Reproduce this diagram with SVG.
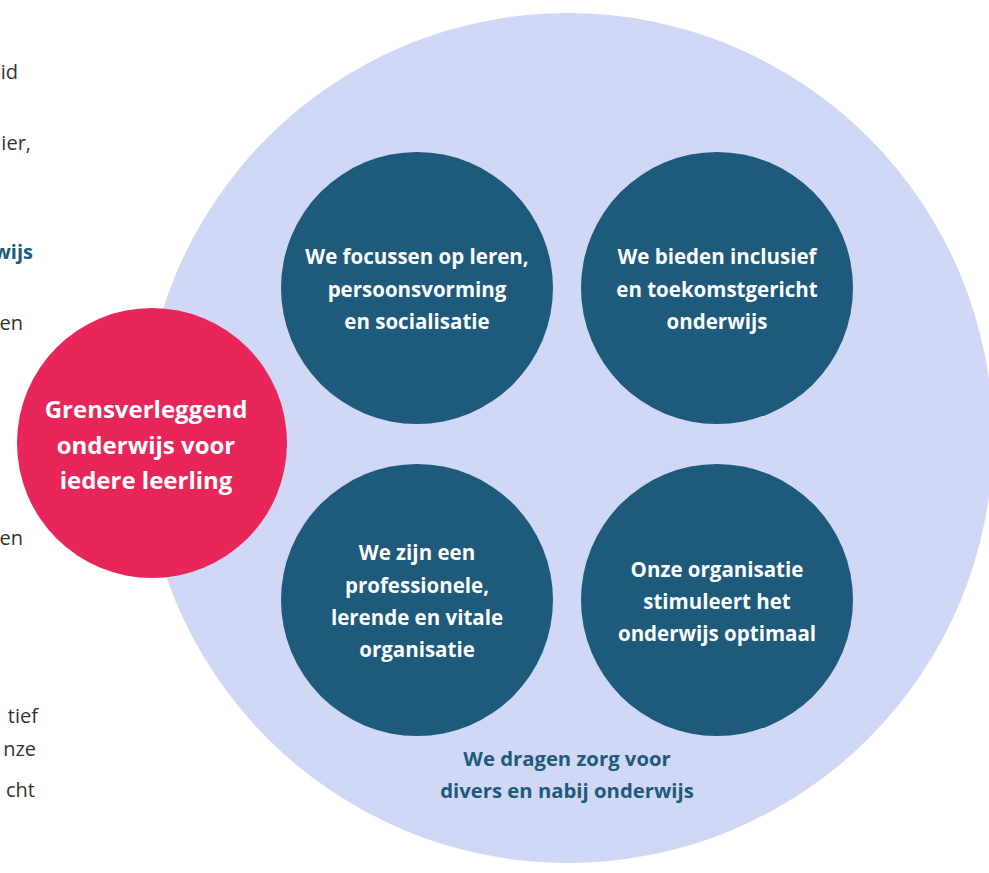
<svg xmlns="http://www.w3.org/2000/svg" width="989" height="873" viewBox="0 0 989 873">
<style>
.frag{font-family:"Open Sans","Noto Sans",sans-serif;font-size:20px;fill:#333;text-anchor:end}
.fragb{font-family:"Open Sans","Noto Sans",sans-serif;font-size:20px;font-weight:bold;fill:#1D5A7B;text-anchor:end}
.wt{font-family:"Open Sans","Noto Sans",sans-serif;font-weight:bold;font-size:20.5px;fill:#fff;text-anchor:middle}
.pk{font-family:"Open Sans","Noto Sans",sans-serif;font-weight:bold;font-size:24px;fill:#fff;text-anchor:middle}
.bt{font-family:"Open Sans","Noto Sans",sans-serif;font-weight:bold;font-size:20.3px;fill:#1D5A7B;text-anchor:middle}
.dk{fill:#1D5A7B}
</style>
<rect width="989" height="873" fill="#fff"/>
<g id="fragments">
<text class="frag" x="18" y="79">id</text>
<text class="frag" x="31" y="150">ier,</text>
<text class="fragb" x="33" y="259">wijs</text>
<text class="frag" x="23" y="330">en</text>
<text class="frag" x="23" y="545">en</text>
<text class="frag" x="38" y="723">tief</text>
<text class="frag" x="36" y="756">nze</text>
<text class="frag" x="35" y="797">cht</text>
</g>
<g id="outer">
<circle cx="568" cy="438" r="425" fill="#D1D8F5"/>
<text class="bt" x="567" y="766">We dragen zorg voor</text>
<text class="bt" x="567" y="798">divers en nabij onderwijs</text>
</g>
<g id="center">
<circle cx="152" cy="443" r="135" fill="#E8265A"/>
<text class="pk" x="146" y="418">Grensverleggend</text>
<text class="pk" x="146" y="454">onderwijs voor</text>
<text class="pk" x="146" y="489">iedere leerling</text>
</g>
<g id="n1">
<circle class="dk" cx="417" cy="288" r="136"/>
<text class="wt" x="417" y="264">We focussen op leren,</text>
<text class="wt" x="417" y="297">persoonsvorming</text>
<text class="wt" x="417" y="329">en socialisatie</text>
</g>
<g id="n2">
<circle class="dk" cx="717" cy="288" r="136"/>
<text class="wt" x="717" y="264">We bieden inclusief</text>
<text class="wt" x="717" y="297">en toekomstgericht</text>
<text class="wt" x="717" y="329">onderwijs</text>
</g>
<g id="n3">
<circle class="dk" cx="417" cy="600" r="136"/>
<text class="wt" x="417" y="560">We zijn een</text>
<text class="wt" x="417" y="593">professionele,</text>
<text class="wt" x="417" y="625">lerende en vitale</text>
<text class="wt" x="417" y="657">organisatie</text>
</g>
<g id="n4">
<circle class="dk" cx="717" cy="600" r="136"/>
<text class="wt" x="717" y="577">Onze organisatie</text>
<text class="wt" x="717" y="609">stimuleert het</text>
<text class="wt" x="717" y="641">onderwijs optimaal</text>
</g>
<g id="connectors"></g>
</svg>
